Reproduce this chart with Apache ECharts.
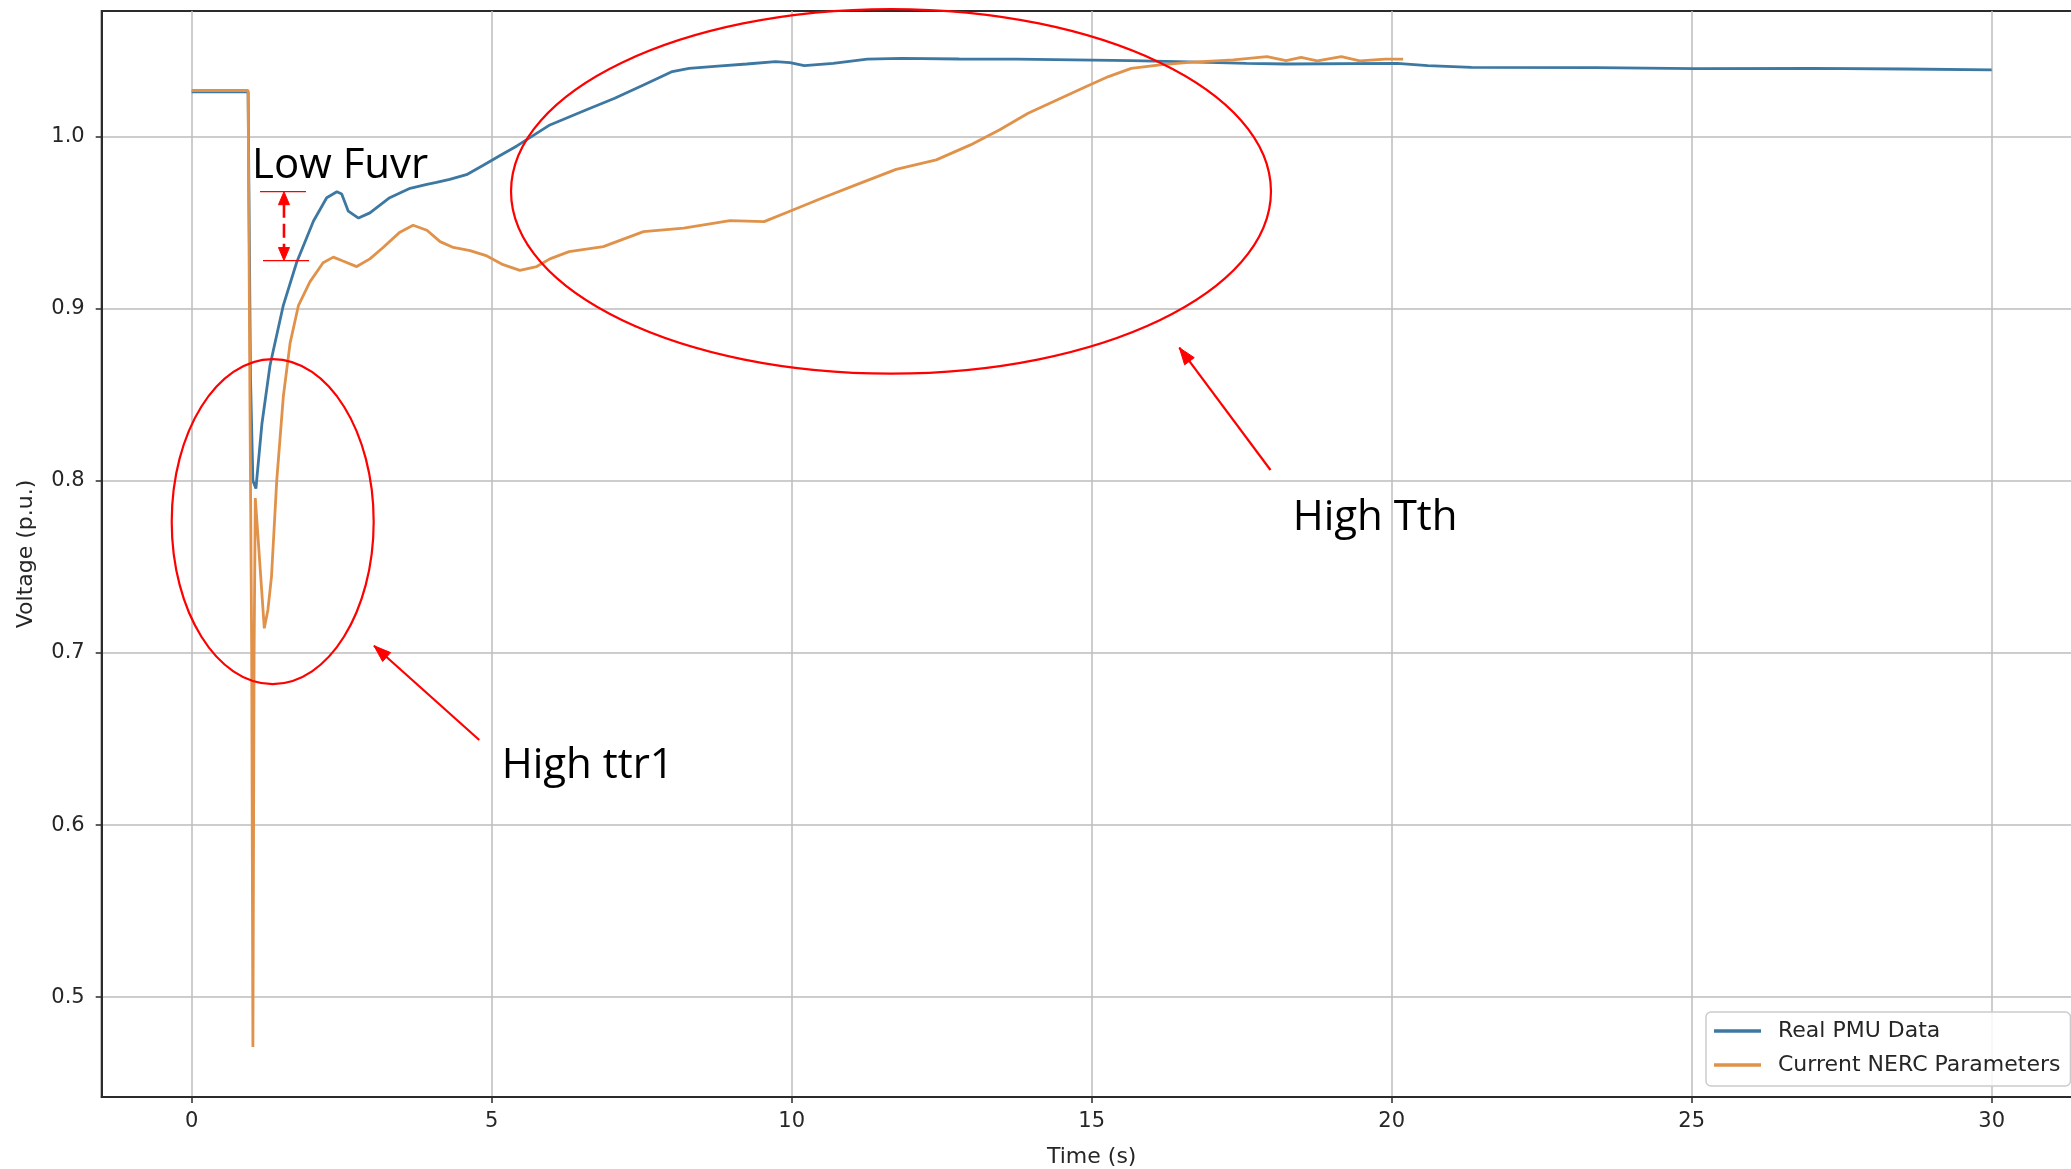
<!DOCTYPE html>
<html>
<head>
<meta charset="utf-8">
<title>Voltage response</title>
<script src="https://cdn.jsdelivr.net/npm/echarts@6/dist/echarts.min.js"></script>
<style>
  html, body { margin: 0; padding: 0; background: #ffffff; }
  #chart { width: 2071px; height: 1169px; }
</style>
</head>
<body>
<div id="chart"></div>
<script>
// Measured PMU voltage (p.u.) against time (s)
const pmuTime = [
  0, 0.94, 0.98, 1.02, 1.07, 1.17, 1.305, 1.527, 1.75, 2.03, 2.25, 2.42, 2.5, 2.61, 2.78,
  2.97, 3.3, 3.64, 3.92, 4.08, 4.3, 4.58, 4.86, 5.14, 5.42, 5.97, 6.57, 7.05, 7.53, 8.01,
  8.29, 8.77, 9.25, 9.73, 9.97, 10.21, 10.69, 11.26, 11.83, 12.79, 13.75, 14.7, 15.66,
  16.62, 17.58, 18.24, 20.09, 20.6, 21.33, 23.4, 25.05, 27.0, 28.55, 30.0
];
const pmuVoltage = [
  1.026, 1.026, 0.86, 0.80, 0.7955, 0.833, 0.867, 0.902, 0.927, 0.951, 0.9645, 0.968, 0.9667, 0.9567, 0.9527,
  0.9557, 0.9645, 0.970, 0.9723, 0.9734, 0.9752, 0.9779, 0.9834, 0.989, 0.9946, 1.0068, 1.0155, 1.0223, 1.030, 1.0378,
  1.0397, 1.041, 1.0422, 1.0436, 1.043, 1.0413, 1.0426, 1.045, 1.0455, 1.0451, 1.045, 1.0446, 1.0442,
  1.0434, 1.0426, 1.0422, 1.0426, 1.0413, 1.0403, 1.0401, 1.0395, 1.0397, 1.0393, 1.0388
];

// Simulated voltage with the current NERC model parameters
const nercTime = [
  0, 0.94, 0.97, 1.0, 1.02, 1.04, 1.06, 1.1, 1.21, 1.27, 1.33, 1.417, 1.527, 1.64, 1.78,
  1.97, 2.19, 2.36, 2.5, 2.75, 2.97, 3.19, 3.47, 3.69, 3.92, 4.14, 4.36, 4.64, 4.92, 5.19,
  5.47, 5.75, 5.97, 6.29, 6.86, 7.53, 8.2, 8.97, 9.54, 10.02, 10.5, 11.07, 11.74, 12.41,
  12.98, 13.46, 13.94, 14.42, 14.9, 15.28, 15.66, 16.14, 16.62, 17.36, 17.92, 18.24, 18.49,
  18.76, 19.16, 19.47, 19.89, 20.19
];
const nercVoltage = [
  1.0268, 1.0268, 0.85, 0.70, 0.471, 0.70, 0.79, 0.77, 0.7143, 0.725, 0.7444, 0.800, 0.849, 0.880, 0.902,
  0.9156, 0.9267, 0.930, 0.928, 0.9245, 0.929, 0.9356, 0.9445, 0.9485, 0.9456, 0.939, 0.9356, 0.9338, 0.9307, 0.9256,
  0.9223, 0.9245, 0.929, 0.9332, 0.9361, 0.9448, 0.9468, 0.9512, 0.9506, 0.9574, 0.9642, 0.972, 0.981, 0.9865,
  0.9952, 1.0039, 1.0136, 1.0213, 1.029, 1.0349, 1.0397, 1.0417, 1.0432, 1.0446, 1.0465, 1.0442, 1.0461,
  1.044, 1.0465, 1.044, 1.045, 1.045
];

const seriesNames = ['Real PMU Data', 'Current NERC Parameters'];
const timeTicks = [0, 5, 10, 15, 20, 25, 30];
const voltageTicks = [0.5, 0.6, 0.7, 0.8, 0.9, 1.0];

// Hand-drawn style call-outs, placed in data units (time, voltage)
const callouts = {
  ellipses: [
    { center: [11.655, 0.9682], radius: [6.333, 0.1059] },
    { center: [1.35, 0.7763], radius: [1.683, 0.0944] }
  ],
  arrows: [
    { from: [17.98, 0.8063], to: [16.46, 0.8774] },
    { from: [4.793, 0.6494], to: [3.038, 0.7042] }
  ],
  gap: { t: 1.538, top: 0.968, bottom: 0.928, topBar: [1.138, 1.905], bottomBar: [1.188, 1.955] },
  labels: [
    { text: 'Low Fuvr', at: [1.005, 0.9758] },
    { text: 'High Tth', at: [18.35, 0.7715] },
    { text: 'High ttr1', at: [5.167, 0.6272] }
  ]
};

const zip = (xs, ys) => xs.map((x, i) => [x, ys[i]]);

const FONT = 'DejaVu Sans';
const INK = '#2b2b2b';
const RED = '#ff0000';
const LABEL_PX = 42;

const chart = echarts.init(document.getElementById('chart'), null, { renderer: 'canvas' });

chart.setOption({
  animation: false,
  backgroundColor: '#ffffff',
  grid: {
    left: 101.7, top: 11, width: 1980, height: 1086,
    show: true, borderColor: INK, borderWidth: 2,
    containLabel: false, outerBoundsMode: 'none'
  },
  xAxis: {
    type: 'value', min: -1.5, max: 31.5,
    name: 'Time (s)', nameLocation: 'middle', nameGap: 49,
    nameTextStyle: { fontFamily: FONT, fontSize: 22, color: '#262626' },
    axisLine: { show: true, onZero: false, lineStyle: { color: INK, width: 2 } },
    axisTick: { show: true, customValues: timeTicks, length: 6, lineStyle: { color: INK, width: 1.5 } },
    axisLabel: { customValues: timeTicks, margin: 14, fontFamily: FONT, fontSize: 21, color: '#262626',
                 formatter: v => String(v) },
    splitLine: { show: true, lineStyle: { color: '#bdbdbd', width: 1.5 } }
  },
  yAxis: {
    type: 'value', min: 0.442, max: 1.073,
    name: 'Voltage (p.u.)', nameLocation: 'middle', nameGap: 64, nameRotate: 90,
    nameTextStyle: { fontFamily: FONT, fontSize: 22, color: '#262626' },
    axisLine: { show: true, onZero: false, lineStyle: { color: INK, width: 2 } },
    axisTick: { show: true, customValues: voltageTicks, length: 6, lineStyle: { color: INK, width: 1.5 } },
    axisLabel: { customValues: voltageTicks, margin: 17, fontFamily: FONT, fontSize: 21, color: '#262626',
                 formatter: v => v.toFixed(1) },
    splitLine: { show: true, lineStyle: { color: '#bdbdbd', width: 1.5 } }
  },
  legend: {
    orient: 'vertical', left: 1706, top: 1012,
    icon: 'path://M0,0H47V3.5H0Z',
    itemWidth: 47, itemHeight: 25, itemGap: 12,
    padding: [8, 10, 10, 8],
    backgroundColor: 'rgba(255,255,255,0.85)', borderColor: '#cccccc', borderWidth: 1.5, borderRadius: 5,
    textStyle: { fontFamily: FONT, fontSize: 22, color: '#262626', padding: [0, 0, 0, 12] },
    data: seriesNames
  },
  series: [
    {
      name: seriesNames[0], type: 'line', data: zip(pmuTime, pmuVoltage),
      showSymbol: false, symbol: 'none', smooth: false,
      lineStyle: { color: '#3d78a3', width: 2.8 }, itemStyle: { color: '#3d78a3' }, z: 2
    },
    {
      name: seriesNames[1], type: 'line', data: zip(nercTime, nercVoltage),
      showSymbol: false, symbol: 'none', smooth: false,
      lineStyle: { color: '#e0924a', width: 2.8 }, itemStyle: { color: '#e0924a' }, z: 3
    }
  ]
});

// Build the red call-outs in pixel space from their data-unit anchors
function arrowHead(tip, tail, len, half) {
  const dx = tip[0] - tail[0], dy = tip[1] - tail[1];
  const d = Math.hypot(dx, dy) || 1;
  const ux = dx / d, uy = dy / d;
  const bx = tip[0] - ux * len, by = tip[1] - uy * len;
  return {
    type: 'polygon', z: 100,
    shape: { points: [[tip[0], tip[1]], [bx - uy * half, by + ux * half], [bx + uy * half, by - ux * half]] },
    style: { fill: RED, stroke: RED, lineWidth: 1 }
  };
}

function drawCallouts() {
  const px = (t, v) => chart.convertToPixel({ gridIndex: 0 }, [t, v]);
  const els = [];

  callouts.ellipses.forEach(e => {
    const c = px(e.center[0], e.center[1]);
    const edge = px(e.center[0] + e.radius[0], e.center[1] + e.radius[1]);
    els.push({
      type: 'ellipse', z: 100,
      shape: { cx: c[0], cy: c[1], rx: Math.abs(edge[0] - c[0]), ry: Math.abs(edge[1] - c[1]) },
      style: { fill: null, stroke: RED, lineWidth: 2.2 }
    });
  });

  callouts.arrows.forEach(a => {
    const p0 = px(a.from[0], a.from[1]);
    const p1 = px(a.to[0], a.to[1]);
    els.push({
      type: 'line', z: 100,
      shape: { x1: p0[0], y1: p0[1], x2: p1[0], y2: p1[1] },
      style: { stroke: RED, lineWidth: 2.2 }
    });
    els.push(arrowHead(p1, p0, 17, 6));
  });

  // double-headed arrow marking the voltage gap between the two first peaks
  const g = callouts.gap;
  const top = px(g.t, g.top), bot = px(g.t, g.bottom);
  els.push({
    type: 'line', z: 100,
    shape: { x1: top[0], y1: top[1] + 12, x2: bot[0], y2: bot[1] - 12 },
    style: { stroke: RED, lineWidth: 2.6, lineDash: [14, 6] }
  });
  els.push(arrowHead(top, [top[0], top[1] + 20], 13, 5.5));
  els.push(arrowHead(bot, [bot[0], bot[1] - 20], 13, 5.5));
  const tb0 = px(g.topBar[0], g.top), tb1 = px(g.topBar[1], g.top);
  const bb0 = px(g.bottomBar[0], g.bottom), bb1 = px(g.bottomBar[1], g.bottom);
  els.push({ type: 'line', z: 100, shape: { x1: tb0[0], y1: tb0[1], x2: tb1[0], y2: tb1[1] }, style: { stroke: RED, lineWidth: 1.3 } });
  els.push({ type: 'line', z: 100, shape: { x1: bb0[0], y1: bb0[1], x2: bb1[0], y2: bb1[1] }, style: { stroke: RED, lineWidth: 1.3 } });

  // labels: anchor is the left end of the text baseline
  callouts.labels.forEach(l => {
    const p = px(l.at[0], l.at[1]);
    els.push({
      type: 'text', z: 101, x: p[0], y: p[1] - 0.285 * LABEL_PX,
      style: { text: l.text, fill: '#000000', font: LABEL_PX + 'px "Open Sans"', align: 'left', verticalAlign: 'middle' }
    });
  });

  chart.setOption({ graphic: els });
}

drawCallouts();
</script>
</body>
</html>
